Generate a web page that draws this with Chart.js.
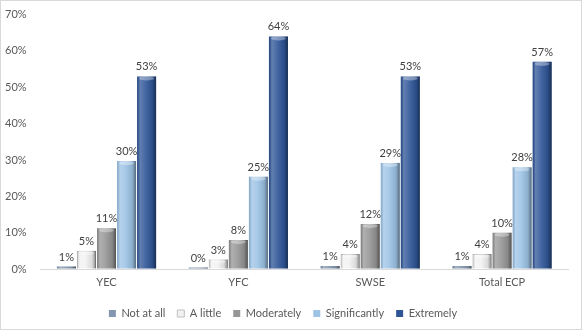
<!DOCTYPE html>
<html><head><meta charset="utf-8">
<script src="https://cdn.jsdelivr.net/npm/chart.js@4/dist/chart.umd.min.js"></script>
<style>
html,body{margin:0;padding:0;background:#fff;}
#wrap{width:582px;height:330px;box-sizing:border-box;border:1px solid #d9d9d9;position:relative;}
canvas{display:block;}
</style></head><body>
<div id="wrap"><canvas id="c" width="580" height="328"></canvas></div>
<script>
const categories = ["YEC", "YFC", "SWSE", "Total ECP"];
const notAtAll = [0.7, 0.4, 0.8, 0.8];
const aLittle = [5.0, 2.6, 4.1, 4.1];
const moderately = [11.2, 8.0, 12.4, 10.0];
const significantly = [29.7, 25.4, 29.2, 28.0];
const extremely = [53.0, 64.0, 53.0, 57.0];
const seriesNames = ["Not at all", "A little", "Moderately", "Significantly", "Extremely"];
const yTicks = [0, 10, 20, 30, 40, 50, 60, 70];

const colors = ["#8497b0", "#f2f2f2", "#969696", "#9dc3e6", "#2f5597"];
const borders = ["#6f7f99", "#bfbfbf", "#7f7f7f", "#7fa9d3", "#203f73"];
const font = "Lato, 'Liberation Sans', sans-serif";

const shadePlugin = {
  id: 'shade',
  afterDatasetsDraw(chart) {
    const ctx = chart.ctx;
    chart.data.datasets.forEach((ds, di) => {
      const meta = chart.getDatasetMeta(di);
      meta.data.forEach((bar) => {
        const p = bar.getProps(['x', 'y', 'width', 'base'], true);
        const l = p.x - p.width / 2, r = p.x + p.width / 2;
        const h = p.base - p.y;
        if (h <= 0) return;
        ctx.save();
        const g = ctx.createLinearGradient(l, 0, r, 0);
        g.addColorStop(0, 'rgba(0,0,0,0.10)');
        g.addColorStop(0.15, 'rgba(255,255,255,0.25)');
        g.addColorStop(0.45, 'rgba(255,255,255,0.10)');
        g.addColorStop(0.8, 'rgba(0,0,0,0.10)');
        g.addColorStop(1, 'rgba(0,0,0,0.45)');
        ctx.fillStyle = g;
        ctx.fillRect(l, p.y, p.width, h);
        if (h > 4) {
          ctx.fillStyle = 'rgba(255,255,255,0.35)';
          ctx.beginPath();
          ctx.ellipse(p.x, p.y + 2, p.width / 2 - 2, 2, 0, 0, Math.PI * 2);
          ctx.fill();
        }
        ctx.restore();
      });
    });
  }
};

const labelPlugin = {
  id: 'vlabels',
  afterDatasetsDraw(chart) {
    const ctx = chart.ctx;
    ctx.save();
    ctx.font = "11px " + font;
    ctx.fillStyle = '#404040';
    ctx.textAlign = 'center';
    ctx.textBaseline = 'bottom';
    chart.data.datasets.forEach((ds, di) => {
      const meta = chart.getDatasetMeta(di);
      meta.data.forEach((bar, i) => {
        const p = bar.getProps(['x', 'y'], true);
        ctx.fillText(Math.round(ds.data[i]) + '%', p.x, p.y - 4);
      });
    });
    ctx.restore();
  }
};

const allSeries = [notAtAll, aLittle, moderately, significantly, extremely];
new Chart(document.getElementById('c'), {
  type: 'bar',
  data: {
    labels: categories,
    datasets: allSeries.map((d, i) => ({
      label: seriesNames[i],
      data: d,
      backgroundColor: colors[i],
      borderColor: borders[i],
      borderWidth: i === 1 ? 1 : 0,
      categoryPercentage: 0.76,
      barPercentage: 0.95
    }))
  },
  options: {
    responsive: false,
    animation: false,
    layout: { padding: { left: -3, right: 13, top: 0, bottom: 0 } },
    scales: {
      x: {
        grid: { display: false, drawTicks: false, color: 'rgba(0,0,0,0)' },
        border: { display: true, color: '#d9d9d9' },
        ticks: { color: '#595959', font: { family: font, size: 11, lineHeight: 1.0 }, padding: 8 }
      },
      y: {
        min: 0, max: 70,
        afterBuildTicks(axis) { axis.ticks = yTicks.map(v => ({ value: v })); },
        grid: { display: true, drawOnChartArea: false, drawTicks: true, tickLength: 7, color: 'rgba(0,0,0,0)' },
        border: { display: false },
        ticks: { color: '#595959', font: { family: font, size: 11 }, padding: 7,
                 callback: v => v + '%' }
      }
    },
    plugins: {
      legend: {
        position: 'bottom',
        labels: { boxWidth: 7, boxHeight: 7, padding: 12, color: '#595959',
                  font: { family: font, size: 11 } }
      },
      tooltip: { enabled: false }
    }
  },
  plugins: [shadePlugin, labelPlugin]
});
</script>
</body></html>
